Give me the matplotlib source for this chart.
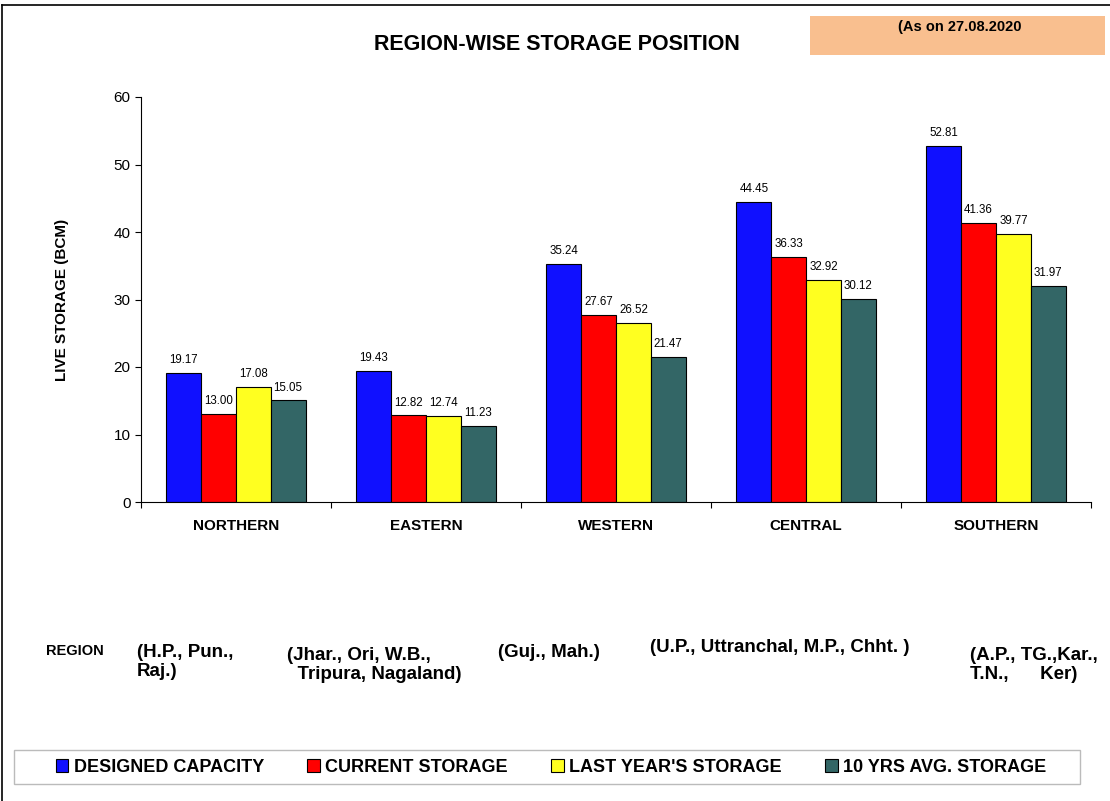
import numpy as np
import matplotlib
matplotlib.use("Agg")
import matplotlib.pyplot as plt
from matplotlib.patches import Rectangle, Patch

plt.rcParams['font.family'] = ['Liberation Sans', 'DejaVu Sans']

regions = ['NORTHERN', 'EASTERN', 'WESTERN', 'CENTRAL', 'SOUTHERN']
designed = [19.17, 19.43, 35.24, 44.45, 52.81]
current = [13.00, 12.82, 27.67, 36.33, 41.36]
last_year = [17.08, 12.74, 26.52, 32.92, 39.77]
avg_10yr = [15.05, 11.23, 21.47, 30.12, 31.97]
series_names = ['DESIGNED CAPACITY', 'CURRENT STORAGE', "LAST YEAR'S STORAGE", '10 YRS AVG. STORAGE']
colors = ['#1010FF', '#FF0000', '#FFFF20', '#336666']
states = ['(H.P., Pun.,\nRaj.)', '(Jhar., Ori, W.B.,\n  Tripura, Nagaland)', '(Guj., Mah.)',
          '(U.P., Uttranchal, M.P., Chht. )', '(A.P., TG.,Kar.,\nT.N.,      Ker)']
states_x = [137, 287, 498, 650, 970]
states_y = [644, 647, 644, 639, 647]

fig = plt.figure(figsize=(11.1, 8.01), dpi=100)
ax = fig.add_axes([141 / 1110, 1 - 502 / 801, 950 / 1110, 405 / 801])

x = np.arange(len(regions))
w = 0.183
data = [designed, current, last_year, avg_10yr]
for i, (vals, c) in enumerate(zip(data, colors)):
    pos = x + (i - 1.5) * w
    ax.bar(pos, vals, w, color=c, edgecolor='black', linewidth=0.8)
    for p, v in zip(pos, vals):
        ax.text(p, v + 1.0, f'{v:.2f}', ha='center', va='bottom', fontsize=8.3)

ax.set_xlim(-0.5, len(regions) - 0.5)
ax.set_ylim(0, 60)
ax.set_yticks(range(0, 61, 10))
ax.set_xticks(np.arange(-0.5, len(regions), 1))
ax.set_xticklabels([])
ax.tick_params(axis='x', length=4, direction='out')
ax.tick_params(axis='y', length=4, labelsize=11, direction='out')
for i, r in enumerate(regions):
    ax.text(i, -3.5, r, ha='center', va='center', fontsize=11, fontweight='bold')
ax.spines['top'].set_visible(False)
ax.spines['right'].set_visible(False)
ax.set_ylabel('LIVE STORAGE (BCM)', fontsize=11, fontweight='bold', labelpad=32)

fig.text(557 / 1110, 1 - 44 / 801, 'REGION-WISE STORAGE POSITION', ha='center', va='center',
         fontsize=15.5, fontweight='bold')
fig.patches.append(Rectangle((810 / 1110, 1 - 55 / 801), 295 / 1110, 39 / 801,
                             transform=fig.transFigure, facecolor='#F9BF8F', edgecolor='none'))
fig.text(960 / 1110, 1 - 27 / 801, '(As on 27.08.2020', ha='center', va='center',
         fontsize=10.5, fontweight='bold')

fig.text(46 / 1110, 1 - 651 / 801, 'REGION', ha='left', va='center', fontsize=10.5, fontweight='bold')
for s, sx, sy in zip(states, states_x, states_y):
    fig.text(sx / 1110, 1 - sy / 801, s, ha='left', va='top', fontsize=13.5, fontweight='bold',
             linespacing=1.15)

# frame lines on left and top
fig.add_artist(plt.Line2D([2 / 1110, 2 / 1110], [0, 1 - 5 / 801], color='black', lw=1.2,
                          transform=fig.transFigure))
fig.add_artist(plt.Line2D([2 / 1110, 1], [1 - 5 / 801, 1 - 5 / 801], color='black', lw=1.2,
                          transform=fig.transFigure))

# legend box
fig.patches.append(Rectangle((14 / 1110, 1 - 784 / 801), 1066 / 1110, 34 / 801,
                             transform=fig.transFigure, facecolor='white', edgecolor='#BBBBBB',
                             linewidth=1.0))
handles = [Patch(facecolor=c, edgecolor='black', linewidth=0.8) for c in colors]
leg = fig.legend(handles, series_names, loc='center', ncol=4,
                 bbox_to_anchor=(551 / 1110, 1 - 767 / 801), frameon=False,
                 prop={'weight': 'bold', 'size': 13}, handlelength=0.7, handleheight=0.7,
                 handletextpad=0.3, columnspacing=2.4, borderpad=0.3)

fig.savefig('out.png', dpi=100)
